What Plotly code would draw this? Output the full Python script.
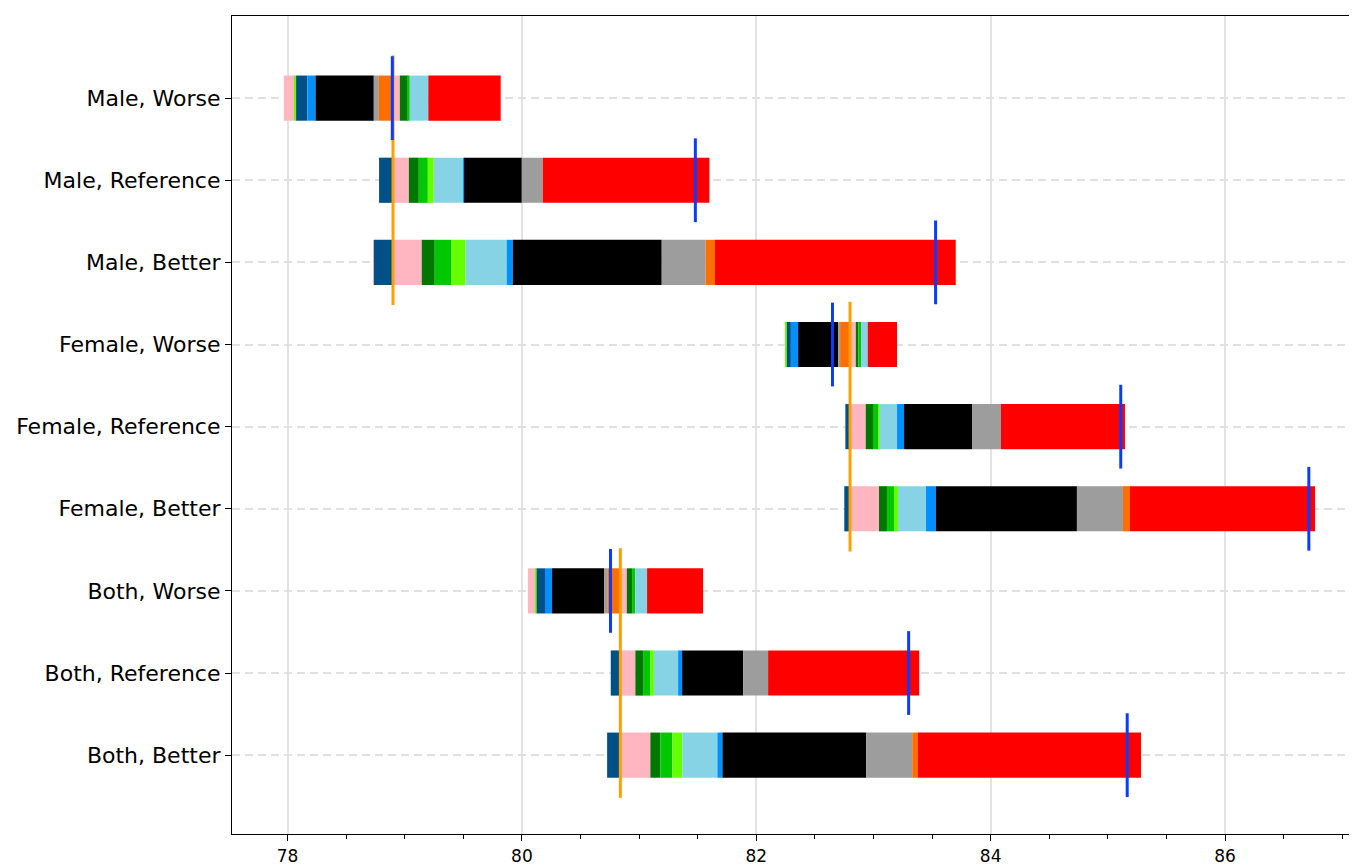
import plotly.graph_objects as go

# Categories (top to bottom)
categories = ["Male, Worse", "Male, Reference", "Male, Better",
              "Female, Worse", "Female, Reference", "Female, Better",
              "Both, Worse", "Both, Reference", "Both, Better"]

# Baseline (orange line) per group and the bars it spans
groups = ["Male", "Female", "Both"]
group_baseline = [78.90, 82.80, 80.84]
bar_group = [0, 0, 0, 1, 1, 1, 2, 2, 2]

# Net result (blue line) per bar
net_value = [78.894, 81.48, 83.53, 82.65, 85.11, 86.715, 80.756, 83.30, 85.165]

# Signed contributions per component (negative = stacked left of baseline)
pink_a   = [-0.094, 0.0, -0.007, 0.0, 0.0, 0.0, -0.066, 0.0, 0.0]
pink_b   = [0.058, 0.135, 0.245, 0.049, 0.134, 0.247, 0.055, 0.128, 0.256]
dkgreen  = [0.068, 0.085, 0.111, 0.022, 0.062, 0.068, 0.045, 0.066, 0.085]
green    = [0.017, 0.077, 0.144, 0.023, 0.043, 0.060, 0.026, 0.060, 0.103]
lime     = [-0.011, 0.051, 0.120, -0.012, 0.011, 0.034, -0.009, 0.032, 0.085]
darkblue = [-0.096, -0.119, -0.163, -0.034, -0.040, -0.049, -0.071, -0.082, -0.113]
ltblue   = [0.158, 0.250, 0.350, 0.057, 0.151, 0.239, 0.102, 0.207, 0.299]
blue     = [-0.070, 0.009, 0.052, -0.062, 0.060, 0.085, -0.060, 0.034, 0.043]
black    = [-0.497, 0.492, 1.271, -0.341, 0.580, 1.203, -0.444, 0.521, 1.227]
gray     = [-0.043, 0.179, 0.375, -0.017, 0.247, 0.393, -0.028, 0.213, 0.393]
orange   = [-0.121, 0.0, 0.079, -0.085, 0.0, 0.060, -0.111, 0.0, 0.049]
red      = [0.618, 1.422, 2.055, 0.250, 1.058, 1.579, 0.478, 1.289, 1.903]

components = [pink_a, pink_b, dkgreen, green, lime, darkblue, ltblue, blue,
              black, gray, orange, red]
comp_colors = ["#FFB6C1", "#FFB6C1", "#007700", "#00C800", "#66FF00", "#005088",
               "#87D3E6", "#0090FF", "#000000", "#9C9D9C", "#FF6E00", "#FF0000"]

ypos = list(range(len(categories)))
n = len(categories)

# stacking cursors
neg_cursor = []
pos_cursor = []
for j in range(n):
    b = group_baseline[bar_group[j]]
    neg_total = sum(-c[j] for c in components if c[j] < 0)
    neg_cursor.append(b - neg_total)
    pos_cursor.append(b)

fig = go.Figure()
for comp, col in zip(components, comp_colors):
    xs, bases, ys = [], [], []
    for j in range(n):
        v = comp[j]
        if v < 0:
            xs.append(-v); bases.append(neg_cursor[j]); ys.append(ypos[j])
            neg_cursor[j] += -v
        elif v > 0:
            xs.append(v); bases.append(pos_cursor[j]); ys.append(ypos[j])
            pos_cursor[j] += v
    fig.add_trace(go.Bar(x=xs, base=bases, y=ys, orientation="h", width=0.55,
                         marker=dict(color=col, line=dict(width=0)),
                         showlegend=False, hoverinfo="skip"))

# orange baseline lines spanning each group's three bars
for g, b in enumerate(group_baseline):
    idx = [j for j in range(n) if bar_group[j] == g]
    fig.add_trace(go.Scatter(x=[b, b], y=[min(idx) - 0.52, max(idx) + 0.52],
                             mode="lines", line=dict(color="#FFA000", width=3),
                             showlegend=False, hoverinfo="skip"))

# blue net lines per bar
for j in range(n):
    fig.add_trace(go.Scatter(x=[net_value[j], net_value[j]], y=[ypos[j] - 0.51, ypos[j] + 0.51],
                             mode="lines", line=dict(color="#0A3CFF", width=3),
                             showlegend=False, hoverinfo="skip"))

fig.update_layout(
    width=1349, height=858,
    margin=dict(l=224, r=0, t=8, b=30),
    barmode="overlay",
    paper_bgcolor="white", plot_bgcolor="white",
    font=dict(family="DejaVu Sans", color="black"),
    xaxis=dict(range=[77.526, 87.126], tickvals=[78, 80, 82, 84, 86],
               ticks="outside", ticklen=6, tickwidth=1, tickcolor="black",
               tickfont=dict(size=17), showgrid=True, gridcolor="#E3E3E3", gridwidth=1.5,
               showline=True, linecolor="black", linewidth=1.2, mirror=True,
               zeroline=False,
               minor=dict(dtick=0.5, tick0=78, ticks="outside", ticklen=3.5,
                          tickcolor="black", showgrid=False)),
    yaxis=dict(range=[8.96, -1.0], tickvals=ypos, ticktext=categories,
               ticks="outside", ticklen=6, tickwidth=1, tickcolor="black",
               tickfont=dict(size=22), showgrid=True, gridcolor="#E0E0E0", gridwidth=1.5,
               griddash="8px,5px", showline=True, linecolor="black", linewidth=1.2,
               mirror=False, zeroline=False),
)

fig.write_html("out.html")
